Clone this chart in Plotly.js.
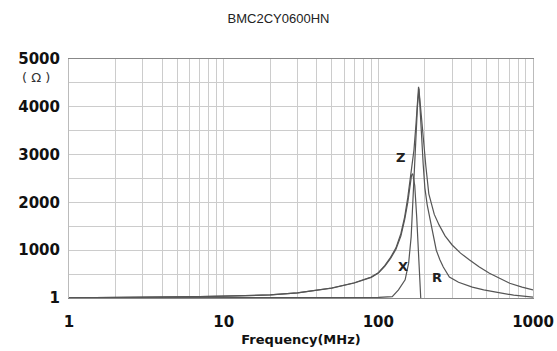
<!DOCTYPE html>
<html>
<head>
<meta charset="utf-8">
<script src="https://cdn.plot.ly/plotly-3.0.1.min.js"></script>
<style>html,body{margin:0;padding:0;background:#fff;}#chart{width:557px;height:351px;}</style>
</head>
<body>
<div id="chart"></div>
<script>
// Data (frequency in MHz, impedance in ohms)
const freqZ = [1, 2, 3, 5, 7, 10, 15, 20, 30, 40, 50, 70, 90, 100, 110, 120, 130, 140, 148, 155, 160, 165, 170, 175, 179, 182, 185, 188, 192, 197, 203, 212, 230, 247, 270, 300, 340, 389, 450, 523, 600, 707, 850, 1000];
const valZ  = [5, 10, 14, 22, 30, 40, 52, 65, 110, 165, 210, 320, 440, 530, 680, 850, 1050, 1350, 1700, 2100, 2450, 2750, 3100, 3620, 4040, 4420, 4200, 3920, 3580, 3150, 2750, 2180, 1750, 1530, 1300, 1110, 940, 795, 650, 520, 420, 310, 230, 170];

const freqX = [1, 2, 3, 5, 7, 10, 15, 20, 30, 40, 50, 70, 90, 100, 110, 120, 130, 140, 148, 155, 160, 164, 167, 172, 177, 181, 184, 188];
const valX  = [5, 10, 14, 22, 30, 40, 52, 65, 108, 162, 206, 315, 433, 522, 665, 830, 1020, 1300, 1640, 2000, 2330, 2570, 2600, 2350, 1700, 1100, 600, 0];

const freqR = [1, 10, 50, 100, 123, 135, 149, 157, 163, 167, 169, 172, 176, 179, 183, 186, 190, 195, 200, 207, 214, 225, 237, 250, 263, 288, 330, 405, 480, 577, 750, 1000];
const valR  = [2, 3, 5, 12, 30, 170, 380, 730, 1280, 1990, 2500, 3000, 3600, 4000, 4380, 4050, 3450, 2800, 2300, 1950, 1700, 1350, 1000, 800, 650, 440, 330, 230, 170, 125, 60, 20];

const yTickVals = [1, 500, 1000, 1500, 2000, 2500, 3000, 3500, 4000, 4500, 5000];
const yTickText = ["1", "", "1000", "", "2000", "", "3000", "", "4000", "", "5000"];
const xTickVals = [1,2,3,4,5,6,7,8,9,10,20,30,40,50,60,70,80,90,100,200,300,400,500,600,700,800,900,1000];
const xTickText = xTickVals.map(v => [1,10,100,1000].includes(v) ? String(v) : "");

const curveLabels = [
  {name: "Z", f: 139, v: 2930},
  {name: "X", f: 145, v: 650},
  {name: "R", f: 241, v: 420}
];

const lineStyle = {color: '#555', width: 1.2};
const traces = [
  {x: freqZ, y: valZ, name: 'Z', mode: 'lines', line: lineStyle},
  {x: freqX, y: valX, name: 'X', mode: 'lines', line: lineStyle},
  {x: freqR, y: valR, name: 'R', mode: 'lines', line: lineStyle}
];

const boldFont = {family: 'DejaVu Sans', size: 15, color: '#111', weight: 'bold'};
const gridCol = '#cccccc';

const annotations = curveLabels.map(c => ({
  x: Math.log10(c.f), y: c.v, xref: 'x', yref: 'y', text: c.name, showarrow: false,
  font: {family: 'DejaVu Sans', size: 13, color: '#222', weight: 'bold'}
}));
annotations.push({
  x: -0.072, y: 0.922, xref: 'paper', yref: 'paper', text: '( Ω )', showarrow: false,
  xanchor: 'center', yanchor: 'middle',
  font: {family: 'DejaVu Sans', size: 13, color: '#333'}
});

const layout = {
  width: 557, height: 351,
  margin: {l: 69, r: 24, t: 59, b: 53, pad: 0},
  paper_bgcolor: '#fff', plot_bgcolor: '#fff',
  showlegend: false,
  title: {text: 'BMC2CY0600HN', x: 0.5, xref: 'container', y: 1 - 18/351, yref: 'container', yanchor: 'middle',
          font: {family: 'Liberation Sans', size: 13, color: '#222'}},
  xaxis: {
    type: 'log', range: [0, 3],
    tickmode: 'array', tickvals: xTickVals, ticktext: xTickText,
    showgrid: true, gridcolor: gridCol, gridwidth: 1,
    ticks: '', ticklabelstandoff: 10,
    tickfont: boldFont,
    showline: true, linecolor: '#888', linewidth: 1.2, mirror: true,
    zeroline: false,
    title: {text: 'Frequency(MHz)', standoff: 4, font: {family: 'DejaVu Sans', size: 13, color: '#111', weight: 'bold'}}
  },
  yaxis: {
    range: [1, 5000],
    tickmode: 'array', tickvals: yTickVals, ticktext: yTickText,
    showgrid: true, gridcolor: gridCol, gridwidth: 1,
    ticks: '', ticklabelstandoff: 5,
    tickfont: boldFont,
    showline: true, linecolor: '#bbb', linewidth: 1, mirror: true,
    zeroline: false
  },
  annotations: annotations
};

Plotly.newPlot('chart', traces, layout, {displayModeBar: false, staticPlot: true});
</script>
</body>
</html>
